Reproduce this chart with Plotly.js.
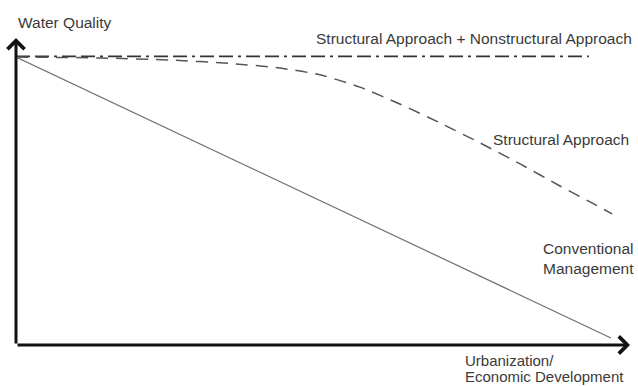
<!DOCTYPE html>
<html>
<head>
<meta charset="utf-8">
<script src="https://cdn.plot.ly/plotly-3.0.1.min.js"></script>
<style>html,body{margin:0;padding:0;background:#fff;}#chart{width:638px;height:386px;}</style>
</head>
<body>
<div id="chart"></div>
<script>
// Series (x: urbanization / economic development, y: water quality)
const combinedX = [0, 93.3];
const combinedY = [94, 94];

const structuralX = [0, 13.7, 25.1, 34.9, 43.0, 49.5, 56.0, 62.5, 69.1, 75.6, 82.1, 88.6, 93.5, 97.1];
const structuralY = [93.8, 93.5, 92.8, 91.7, 90.2, 88.0, 84.0, 78.5, 72.3, 65.8, 59.0, 51.8, 46.6, 42.7];

const conventionalX = [0, 96.9];
const conventionalY = [93.8, 2.3];

// Text labels
const yAxisLabel = 'Water Quality';
const xAxisLabelLines = ['Urbanization/', 'Economic Development'];
const combinedLabel = 'Structural Approach + Nonstructural Approach';
const structuralLabel = 'Structural Approach';
const conventionalLabel = 'Conventional<br>Management';

const font = {family: 'Liberation Sans, Arial, sans-serif', size: 15.5, color: '#3a3a3a'};
const smallFont = {family: 'Liberation Sans, Arial, sans-serif', size: 15, color: '#3a3a3a'};

const traces = [
  {x: combinedX, y: combinedY, mode: 'lines', type: 'scatter',
   line: {color: '#333333', width: 1.6, dash: '14px,5px,14px,5px,3px,5px'}, hoverinfo: 'skip'},
  {x: structuralX, y: structuralY, mode: 'lines', type: 'scatter',
   line: {color: '#555555', width: 1.5, dash: '12px,8px', shape: 'spline', smoothing: 0.7}, hoverinfo: 'skip'},
  {x: conventionalX, y: conventionalY, mode: 'lines', type: 'scatter',
   line: {color: '#6f6f6f', width: 1.2}, hoverinfo: 'skip'}
];

const layout = {
  width: 638, height: 386,
  margin: {l: 16, r: 8, t: 38, b: 41, pad: 0},
  paper_bgcolor: '#ffffff', plot_bgcolor: '#ffffff',
  showlegend: false,
  xaxis: {range: [0, 100], visible: false, fixedrange: true},
  yaxis: {range: [0, 100], visible: false, fixedrange: true},
  annotations: [
    // axes with open arrow heads
    {x: 0, y: 100, ax: 0, ay: 0, xref: 'x', yref: 'y', axref: 'x', ayref: 'y', text: '',
     showarrow: true, arrowhead: 4, arrowsize: 1.1, arrowwidth: 3, arrowcolor: '#111111', standoff: 0},
    {x: 100, y: 0, ax: 0, ay: 0, xref: 'x', yref: 'y', axref: 'x', ayref: 'y', text: '',
     showarrow: true, arrowhead: 4, arrowsize: 1.1, arrowwidth: 3, arrowcolor: '#111111', standoff: 0},
    // labels
    {text: yAxisLabel, xref: 'paper', yref: 'paper', x: 0.0, y: 1.052, xanchor: 'left', yanchor: 'middle', showarrow: false, font: font},
    {text: combinedLabel, xref: 'paper', yref: 'paper', x: 0.746, y: 0.997, xanchor: 'center', yanchor: 'middle', showarrow: false, font: font},
    {text: structuralLabel, xref: 'paper', yref: 'paper', x: 0.888, y: 0.671, xanchor: 'center', yanchor: 'middle', showarrow: false, font: font},
    {text: conventionalLabel, xref: 'paper', yref: 'paper', x: 0.932, y: 0.283, xanchor: 'center', yanchor: 'middle', align: 'center', showarrow: false, font: font},
    {text: xAxisLabelLines[0], xref: 'paper', yref: 'paper', x: 0.731, y: -0.049, xanchor: 'left', yanchor: 'middle', showarrow: false, font: smallFont, borderpad: 0, borderwidth: 0},
    {text: xAxisLabelLines[1], xref: 'paper', yref: 'paper', x: 0.731, y: -0.104, xanchor: 'left', yanchor: 'middle', showarrow: false, font: smallFont, borderpad: 0, borderwidth: 0}
  ]
};

Plotly.newPlot('chart', traces, layout, {staticPlot: true, displayModeBar: false});
</script>
</body>
</html>
